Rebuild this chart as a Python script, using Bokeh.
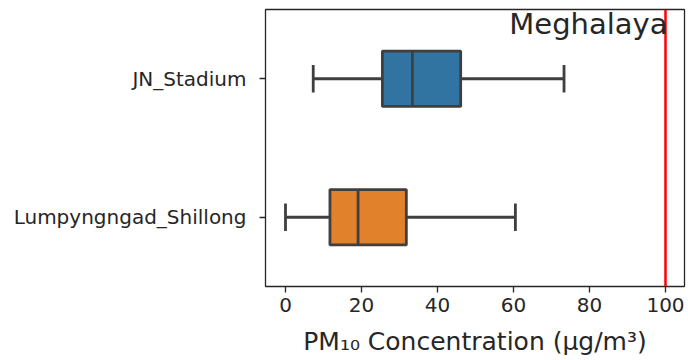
from bokeh.plotting import figure
from bokeh.models import Range1d, FixedTicker, Label, Span, ColumnDataSource
from bokeh.embed import file_html
from bokeh.resources import INLINE

# ---- data ----
stations = ["JN_Stadium", "Lumpyngngad_Shillong"]
whisker_low = [7.3, 0.0]
q1 = [25.5, 11.7]
median = [33.4, 19.1]
q3 = [46.1, 31.8]
whisker_high = [73.3, 60.5]
box_colors = ["#3274a1", "#e1812c"]
x_ticks = [0, 20, 40, 60, 80, 100]
limit_value = 100
state_name = "Meghalaya"
x_label = "PM₁₀ Concentration (µg/m³)"

FONT = "DejaVu Sans"
TEXT = "#262626"
EDGE = "#3f3f3f"

n = len(stations)
pos = [n - 1 - i for i in range(n)]  # first station on top
box_h = 0.4
cap_h = 0.2

src = ColumnDataSource(dict(
    pos=pos, lo=whisker_low, q1=q1, med=median, q3=q3, hi=whisker_high,
    color=box_colors,
    box_bot=[p - box_h / 2 for p in pos], box_top=[p + box_h / 2 for p in pos],
    cap_bot=[p - cap_h / 2 for p in pos], cap_top=[p + cap_h / 2 for p in pos],
))

p = figure(width=688, height=360, output_backend="svg", toolbar_location=None,
           x_range=Range1d(-5.26, 105.0), y_range=Range1d(-0.5, n - 0.5),
           min_border_left=265, min_border_right=4, min_border_top=9, min_border_bottom=74)

p.background_fill_color = "white"
p.border_fill_color = "white"
p.grid.visible = False
p.outline_line_color = TEXT
p.outline_line_width = 1.3

# whiskers
p.segment(x0="lo", x1="q1", y0="pos", y1="pos", source=src, line_color=EDGE, line_width=2.8)
p.segment(x0="q3", x1="hi", y0="pos", y1="pos", source=src, line_color=EDGE, line_width=2.8)
# caps
p.segment(x0="lo", x1="lo", y0="cap_bot", y1="cap_top", source=src, line_color=EDGE, line_width=2.8)
p.segment(x0="hi", x1="hi", y0="cap_bot", y1="cap_top", source=src, line_color=EDGE, line_width=2.8)
# boxes
p.hbar(y="pos", left="q1", right="q3", height=box_h, source=src,
       fill_color="color", line_color=EDGE, line_width=2.8)
# medians
p.segment(x0="med", x1="med", y0="box_bot", y1="box_top", source=src, line_color=EDGE, line_width=2.8)

# limit line
p.add_layout(Span(location=limit_value, dimension="height", line_color="red", line_width=2.5))

# state label
p.add_layout(Label(x=limit_value, y=n - 0.5, text=state_name, text_align="right",
                   text_baseline="top", x_offset=2, y_offset=3,
                   text_font=FONT, text_font_size="29px", text_color=TEXT))

# axes
xa = p.xaxis[0]
xa.ticker = FixedTicker(ticks=x_ticks)
xa.minor_tick_line_color = None
xa.axis_line_color = None
xa.major_tick_in = 0
xa.major_tick_out = 6
xa.major_tick_line_color = TEXT
xa.major_tick_line_width = 1.3
xa.major_label_text_font = FONT
xa.major_label_text_font_size = "20px"
xa.major_label_text_color = TEXT
xa.major_label_standoff = 5
xa.axis_label = x_label
xa.axis_label_text_font = FONT
xa.axis_label_text_font_style = "normal"
xa.axis_label_text_font_size = "25px"
xa.axis_label_text_color = TEXT
xa.axis_label_standoff = 12

ya = p.yaxis[0]
ya.ticker = FixedTicker(ticks=pos)
ya.major_label_overrides = {pp: s for pp, s in zip(pos, stations)}
ya.minor_tick_line_color = None
ya.axis_line_color = None
ya.major_tick_in = 0
ya.major_tick_out = 6
ya.major_tick_line_color = TEXT
ya.major_tick_line_width = 1.3
ya.major_label_text_font = FONT
ya.major_label_text_font_size = "20px"
ya.major_label_text_color = TEXT
ya.major_label_standoff = 13

open("out.html", "w").write(file_html(p, INLINE))
